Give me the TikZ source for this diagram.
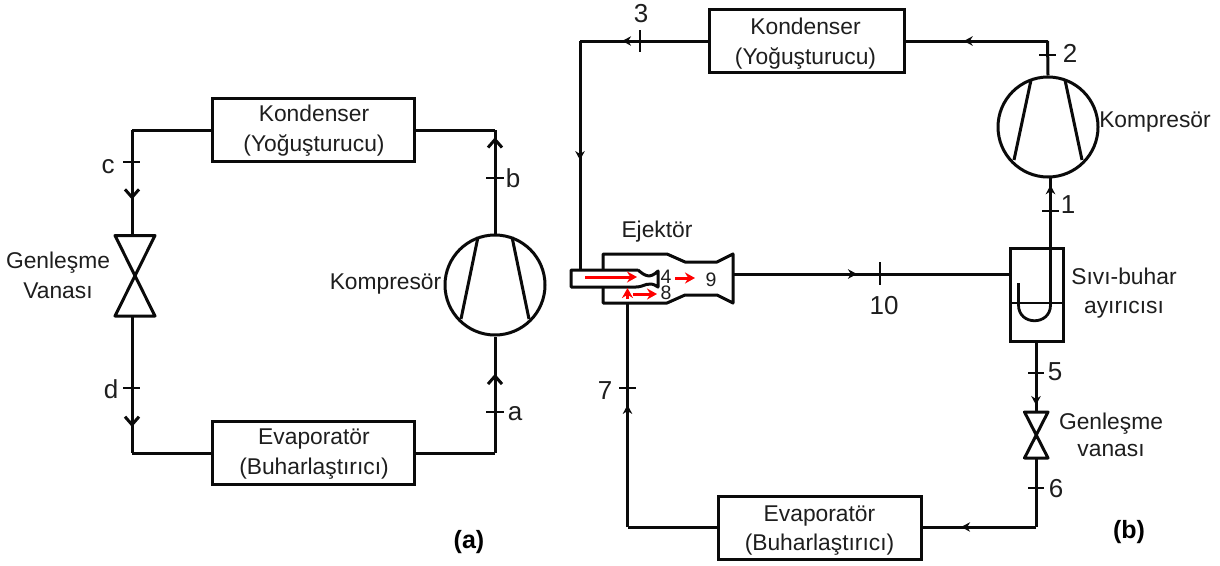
\documentclass[tikz,border=0pt]{standalone}
\usepackage{fontspec}
\setmainfont{Liberation Sans}
\usetikzlibrary{arrows.meta,decorations.markings,calc}
\definecolor{inkc}{RGB}{10,10,10}
\definecolor{txtc}{RGB}{30,30,30}
\tikzset{
  pipe/.style={draw=inkc,line width=3pt,line join=round},
  thin pipe/.style={draw=inkc,line width=2.8pt},
  unit/.style={draw=inkc,line width=3pt,rectangle,inner sep=0pt,minimum width=#1,minimum height=63pt},
  comp/.style={draw=inkc,line width=3pt,circle,inner sep=0pt,minimum size=100pt},
  lbl/.style={inner sep=0pt,text=txtc,font=\fontsize{22.8}{24}\selectfont,align=center},
  num/.style={inner sep=0pt,text=txtc,font=\fontsize{26}{28}\selectfont},
  small/.style={inner sep=0pt,text=txtc,font=\fontsize{22.8}{24}\selectfont},
  digit/.style={inner sep=0pt,text=txtc,font=\fontsize{19.5}{22}\selectfont},
  bold/.style={inner sep=0pt,text=black,font=\fontsize{25}{27}\selectfont\bfseries},
  tick/.style={draw=inkc,line width=2pt},
  red arrow/.style={draw=red,line width=3pt,-{Stealth[length=10pt,width=11pt]}},
  barb/.style={postaction={decorate},decoration={markings,mark=at position #1 with {\arrow{Straight Barb[length=8pt,width=14pt,line width=3pt]}}}},
  solid tip/.style={postaction={decorate},decoration={markings,mark=at position #1 with {\arrow{Stealth[length=9pt,width=9.5pt]}}}},
}
\begin{document}
\begin{tikzpicture}[x=1pt,y=-1pt]
\useasboundingbox (0,0) rectangle (1220,565);
\fill[white] (0,0) rectangle (1220,565);
% ---------- (a)
\node[unit=202pt] (kondA) at (313,129.5) {};
\node[lbl] (kondAt) at (314,131) {Kondenser\\[6pt](Yoğuşturucu)};
\node[unit=202pt] (evapA) at (313,452.5) {};
\node[lbl] (evapAt) at (314,454.5) {Evaporatör\\[6pt](Buharlaştırıcı)};
\node[comp] (compA) at (495,285) {};
\draw[pipe] ($(compA)+(-17,-48)$) -- ($(compA)+(-34,34)$);
\draw[pipe] ($(compA)+(17,-48)$) -- ($(compA)+(34,34)$);
\draw[pipe] (115,235.5) -- (155,235.5) -- (115,316) -- (155,316) -- cycle;
\coordinate (vAt) at (132,235.5);
\coordinate (vAb) at (132,316);
\coordinate (ctl) at (132,130);
\coordinate (ctr) at (495,130);
\coordinate (cbl) at (132,453);
\coordinate (cbr) at (495,453);
\draw[pipe] (kondA.west |- ctl) -- (ctl);
\draw[pipe,barb=0.66] (ctl) -- (vAt);
\draw[pipe,barb=0.81] (vAb) -- (cbl);
\draw[pipe] (cbl) -- (evapA.west |- cbl);
\draw[pipe] (evapA.east |- cbr) -- (cbr);
\draw[pipe,barb=0.68] (cbr) -- (compA.south);
\draw[pipe,barb=0.93] (compA.north) -- (ctr);
\draw[pipe] (ctr) -- (kondA.east |- ctr);
\draw[tick] (123,162) -- (140,162);
\draw[tick] (123,388) -- (140,388);
\draw[tick] (486,412) -- (504,412);
\draw[tick] (486,178) -- (504,178);
\node[num] (lc) at (108,167) {c};
\node[num] (ld) at (111,389) {d};
\node[num] (la) at (515,414) {a};
\node[num] (lb) at (513,178) {b};
\node[lbl] (gvA) at (58,275) {Genleşme\\[6pt]Vanası};
\node[small] (kA) at (385.5,284) {Kompresör};
\node[bold] (capA) at (469,542) {(a)};
% ---------- (b)
\node[unit=195pt] (kondB) at (806.5,40.5) {};
\node[lbl] (kondBt) at (805.5,43.5) {Kondenser\\[6pt](Yoğuşturucu)};
\node[unit=203pt] (evapB) at (819.5,527.5) {};
\node[lbl] (evapBt) at (819.5,531) {Evaporatör\\[5pt](Buharlaştırıcı)};
\node[comp] (compB) at (1048,127) {};
\draw[pipe] ($(compB)+(-17,-47)$) -- ($(compB)+(-34,33)$);
\draw[pipe] ($(compB)+(17,-47)$) -- ($(compB)+(34,33)$);
\node[draw=inkc,line width=3pt,rectangle,inner sep=0pt,minimum width=53pt,minimum height=93pt] (sep) at (1036.5,294.5) {};
\coordinate (liqL) at (1010,303);
\coordinate (liqR) at (1063,303);
\draw[thin pipe] (liqL) -- (liqR);
\coordinate (utop) at (1050.5,178);
\coordinate (uleft) at (1018.5,283);
\draw[thin pipe] (uleft) -- (1018.5,305) .. controls (1018.5,326) and (1050.5,326) .. (1050.5,305) -- (utop);
\draw[pipe] (1024.5,412) -- (1048,412) -- (1024.5,458) -- (1048,458) -- cycle;
\coordinate (vBt) at (1036,412);
\coordinate (vBb) at (1036,458);
% ejector
\draw[pipe] (603,271) -- (603,254) -- (667,254) -- (685,262) -- (717,262) -- (733,254) -- (733,303) -- (717,295) -- (685,295) -- (667,303) -- (603,303) -- (603,287);
\draw[pipe,fill=white,line join=round] (638,270) -- (571,270) -- (571,287) -- (636,287) .. controls (645,287) and (648,280) .. (658,287) -- (658,271) .. controls (650,279) and (645,276) .. (638,270);
\coordinate (ejIn) at (580,270);
\coordinate (ejSuc) at (627.5,303);
\coordinate (ejOut) at (733,274);
\coordinate (tl) at (580,41);
\coordinate (tr) at (1047.5,41);
\coordinate (bl) at (627.5,527);
\coordinate (br) at (1036,527);
\draw[pipe,solid tip=0.67] (kondB.west |- tl) -- (tl);
\draw[pipe,solid tip=0.52] (tl) -- (ejIn);
\draw[pipe,solid tip=0.59] (tr) -- (kondB.east |- tr);
\draw[pipe] (compB.north) -- (tr);
\draw[pipe,solid tip=0.45] (ejOut) -- (sep.west |- ejOut);
\draw[pipe,solid tip=0.90] (1050.5,250) -- (utop);
\draw[pipe,solid tip=0.90] (sep.south -| vBt) -- (vBt);
\draw[pipe] (vBb) -- (br);
\draw[pipe,solid tip=0.66] (br) -- (evapB.east |- br);
\draw[pipe] (evapB.west |- bl) -- (bl);
\draw[pipe,solid tip=0.545] (bl) -- (ejSuc);
% red arrows
\draw[red arrow] (585,277) -- (637,277);
\draw[red arrow] (627.5,299) -- (627.5,288);
\draw[red arrow] (633,294) -- (657,294);
\draw[red arrow] (675,278) -- (695,278);
% ticks
\draw[tick] (1039,55) -- (1056,55);
\draw[tick] (640,30) -- (640,52);
\draw[tick] (1042,211) -- (1059,211);
\draw[tick] (880,262) -- (880,285);
\draw[tick] (1028,373) -- (1044,373);
\draw[tick] (1028,488) -- (1044,488);
\draw[tick] (619,388) -- (636,388);
% labels
\node[num] (n1) at (1068,205) {1};
\node[num] (n2) at (1070,53) {2};
\node[num] (n3) at (641,14) {3};
\node[num] (n5) at (1055,372) {5};
\node[num] (n6) at (1056,489) {6};
\node[num] (n7) at (605,391) {7};
\node[num] (n10) at (884,306) {10};
\node[digit] (n4) at (666,276.5) {4};
\node[digit] (n8) at (666,292.5) {8};
\node[digit] (n9) at (711,280) {9};
\node[small] (kB) at (1155,122) {Kompresör};
\node[small] (ej) at (657,232) {Ejektör};
\node[lbl] (sepT) at (1124,293.5) {Sıvı-buhar\\[5pt]ayırıcısı};
\node[lbl] (gvB) at (1111,435) {Genleşme\\[3pt]vanası};
\node[bold] (capB) at (1129,532) {(b)};
\end{tikzpicture}
\end{document}
